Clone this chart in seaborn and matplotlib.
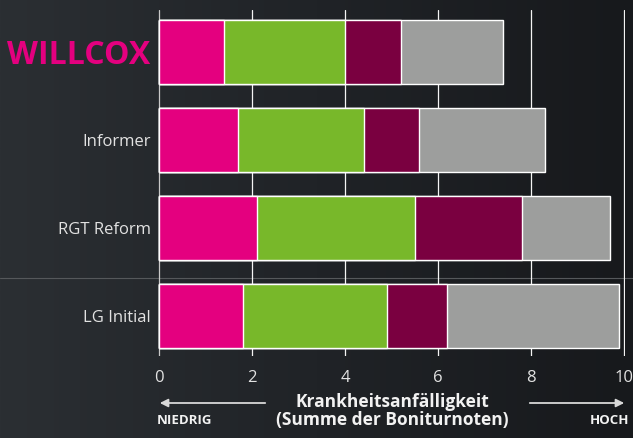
import numpy as np
import pandas as pd
import seaborn as sns
import matplotlib.pyplot as plt
from matplotlib.colors import LinearSegmentedColormap
from matplotlib.patches import FancyArrowPatch

# segment values per variety
sorten = ['WILLCOX', 'Informer', 'RGT Reform', 'LG Initial']
seg_pink = [1.4, 1.7, 2.1, 1.8]
seg_green = [2.6, 2.7, 3.4, 3.1]
seg_maroon = [1.2, 1.2, 2.3, 1.3]
seg_gray = [2.2, 2.7, 1.9, 3.7]
x_ticks = [0, 2, 4, 6, 8, 10]

df = pd.DataFrame({'sorte': sorten, 'pink': seg_pink, 'green': seg_green,
                   'maroon': seg_maroon, 'gray': seg_gray})
cols = ['pink', 'green', 'maroon', 'gray']
cum = df[cols].cumsum(axis=1)
cum['sorte'] = df['sorte']

colors = {'pink': '#e4007f', 'green': '#78b82a', 'maroon': '#7a0040', 'gray': '#9d9e9d'}

sns.set_style('white')
plt.rcParams['font.family'] = ['Open Sans', 'DejaVu Sans']

W, H = 633, 438
fig = plt.figure(figsize=(W / 100, H / 100), dpi=100)

# dark background gradient
bg = fig.add_axes([0, 0, 1, 1])
cmap = LinearSegmentedColormap.from_list('bg', ['#2b2f33', '#202327', '#17191c'])
grad = np.tile(np.linspace(0, 1, 256), (64, 1))
bg.imshow(grad, aspect='auto', cmap=cmap, extent=[0, 1, 0, 1])
bg.plot([0, 1], [1 - 278 / H, 1 - 278 / H], color='#55585b', lw=0.8)
bg.set_xlim(0, 1)
bg.set_ylim(0, 1)
bg.axis('off')

# main axes: x=0 at 159px, x=10 at 624px
ppu = 46.5
x0, x1 = -0.03, 10.03
left = 159 + x0 * ppu
right = 159 + x1 * ppu
top, bottom = 10, 356
ax = fig.add_axes([left / W, 1 - bottom / H, (right - left) / W, (bottom - top) / H])
ax.patch.set_alpha(0)

for c in reversed(cols):
    sns.barplot(data=cum, x=c, y='sorte', orient='h', color=colors[c],
                saturation=1, width=64 / 88, ax=ax, zorder=3)

ax.set_xlim(x0, x1)
ax.set_ylim(3 + 40 / 88, -42 / 88)
ax.set_xticks(x_ticks)
for x in x_ticks:
    ax.axvline(x, color='#c8c8c8' if x == 0 else '#f4f4f4', lw=0.9, zorder=1)
for s in ax.spines.values():
    s.set_visible(False)
ax.tick_params(axis='both', length=0, colors='#e2e2e2', labelsize=12)
ax.tick_params(axis='x', pad=10)
ax.tick_params(axis='y', pad=5)
ax.set_xlabel('')
ax.set_ylabel('')
lab = ax.get_yticklabels()[0]
lab.set_color('#e4007f')
lab.set_fontsize(23)
lab.set_fontweight('bold')

# axis caption and arrows
fig.text(392 / W, 1 - 402 / H, 'Krankheitsanfälligkeit', ha='center', va='center',
         color='#f2f2f2', fontsize=12.5, fontweight='bold')
fig.text(392 / W, 1 - 420 / H, '(Summe der Boniturnoten)', ha='center', va='center',
         color='#f2f2f2', fontsize=12.5, fontweight='bold')
fig.text(157 / W, 1 - 421 / H, 'NIEDRIG', ha='left', va='center',
         color='#f2f2f2', fontsize=9.5, fontweight='bold')
fig.text(629 / W, 1 - 421 / H, 'HOCH', ha='right', va='center',
         color='#f2f2f2', fontsize=9.5, fontweight='bold')
ay = 1 - 403 / H
fig.add_artist(FancyArrowPatch(
    (268 / W, ay), (157 / W, ay), transform=fig.transFigure,
    arrowstyle='-|>', mutation_scale=12, color='#d8d8d8', lw=1.3))
fig.add_artist(FancyArrowPatch(
    (527 / W, ay), (627 / W, ay), transform=fig.transFigure,
    arrowstyle='-|>', mutation_scale=12, color='#d8d8d8', lw=1.3))

plt.savefig('out.png', dpi=100)
